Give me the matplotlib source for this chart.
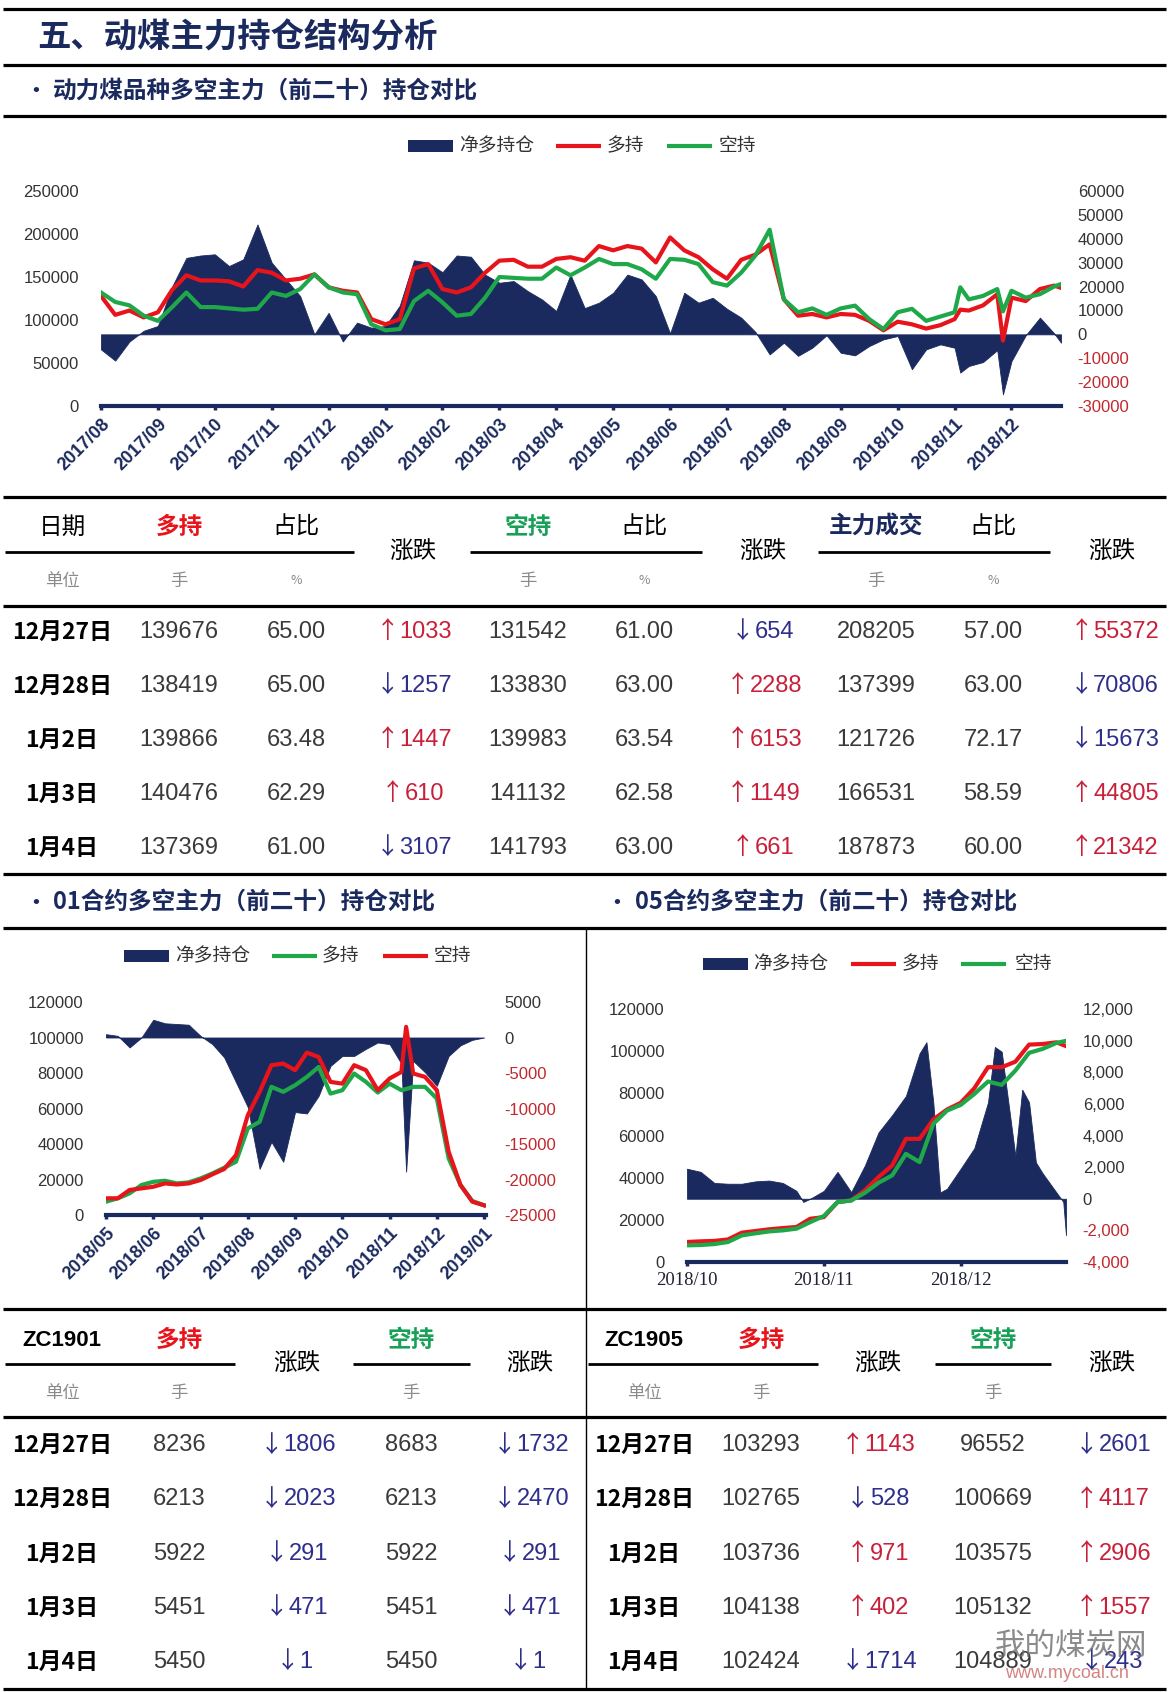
import numpy as np
import matplotlib
matplotlib.use("Agg")
import matplotlib.pyplot as plt

W, H = 1169, 1692

NAVY = '#1B2A5E'
RED = '#E8141B'
GREEN = '#1FA84A'
NEG_RED = '#C0282D'
UP_RED = '#C8203A'
DOWN_BLUE = '#2E2E8C'
GRAY_TXT = '#3A3A3A'

CJK = ['Noto Sans CJK SC', 'DejaVu Sans']
SANS = ['Liberation Sans', 'Noto Sans CJK SC', 'DejaVu Sans']
NARROW = ['Liberation Sans Narrow', 'Liberation Sans', 'Noto Sans CJK SC', 'DejaVu Sans']
SERIF = ['Liberation Serif', 'DejaVu Serif']

plt.rcParams['font.family'] = CJK
plt.rcParams['axes.unicode_minus'] = False

# ---------------- data: main contract chart (x = months since 2017/08) ----------------
top_x = [0, 0.25, 0.5, 0.75, 1, 1.25, 1.5, 1.75, 2, 2.25, 2.5, 2.75, 3, 3.25, 3.5, 3.75,
         4, 4.25, 4.5, 4.75, 5, 5.25, 5.5, 5.75, 6, 6.25, 6.5, 6.75, 7, 7.25, 7.5, 7.75,
         8, 8.25, 8.5, 8.75, 9, 9.25, 9.5, 9.75, 10, 10.25, 10.5, 10.75, 11, 11.25, 11.5, 11.75,
         12, 12.25, 12.5, 12.75, 13, 13.25, 13.5, 13.75, 14, 14.25, 14.5, 14.75, 15, 15.1,
         15.25, 15.5, 15.75, 15.85, 16, 16.25, 16.5, 16.75, 16.87]
top_long = [128000, 106000, 111000, 103000, 109000, 135000, 152000, 146000, 146000, 145000,
            139000, 158000, 155000, 146000, 148000, 153000, 138000, 134000, 132000, 101000,
            95000, 101000, 160000, 165000, 136000, 132000, 138000, 155000, 169000, 170000,
            162000, 162000, 171000, 173000, 169000, 186000, 181000, 186000, 183000, 167000,
            196000, 181000, 173000, 159000, 148000, 170000, 176000, 188000, 124000, 105000,
            107000, 103000, 107000, 106000, 99000, 88000, 98000, 95000, 90000, 94000,
            101000, 112000, 111000, 117000, 130000, 76000, 126000, 122000, 136000, 140000, 137400]
top_short = [132000, 121000, 117000, 105000, 99000, 115000, 132000, 115000, 115000, 113500,
             112000, 113000, 132000, 128000, 136000, 153000, 138000, 132000, 130000, 95000,
             88000, 89500, 122000, 134000, 120500, 105000, 107000, 126000, 150000, 149000,
             148000, 148000, 161000, 152000, 161000, 171000, 165000, 165000, 159000, 148000,
             171000, 170000, 165000, 144000, 140000, 155000, 175000, 205000, 124000, 109000,
             113500, 106000, 113500, 116700, 101000, 89500, 109000, 113000, 99000, 104000,
             109000, 138000, 124000, 128000, 136000, 110000, 134000, 126000, 130000, 139000, 141800]
top_net = [-6300, -11000, -3000, 1500, 3500, 20000, 32000, 33000, 33500, 28600,
           31400, 46000, 30000, 23000, 16000, 0, 9000, -3000, 4900, 2800,
           3500, 12000, 31000, 30000, 26000, 33000, 32500, 25000, 21600, 22300,
           18100, 14600, 9800, 25000, 11000, 13250, 17400, 25000, 23000, 16000,
           400, 17400, 13250, 15300, 10700, 7000, 1000, -8400, -3500, -9000,
           -5600, -400, -7700, -8800, -4900, -2100, -700, -14600, -6300, -4200,
           -5600, -16000, -13250, -11600, -6600, -25100, -11200, -400, 7000, 400, -3500]
top_months = ['2017/08', '2017/09', '2017/10', '2017/11', '2017/12', '2018/01', '2018/02',
              '2018/03', '2018/04', '2018/05', '2018/06', '2018/07', '2018/08', '2018/09',
              '2018/10', '2018/11', '2018/12']

# ---------------- data: ZC1901 chart (x = months since 2018/05) ----------------
c01_x = [0, 0.25, 0.5, 0.75, 1, 1.25, 1.5, 1.75, 2, 2.25, 2.5, 2.75, 3, 3.25, 3.5, 3.75,
         4, 4.25, 4.5, 4.75, 5, 5.25, 5.5, 5.75, 6, 6.25, 6.35, 6.5, 6.75, 7, 7.25, 7.5, 7.75, 8]
c01_long = [7500, 9400, 12200, 16900, 18700, 19300, 17800, 18400, 20600, 23400, 26600, 30000,
            48800, 52500, 72200, 69400, 73100, 77800, 83400, 68400, 70300, 79700, 75000, 69000,
            74000, 70300, 71000, 72200, 72200, 65600, 31900, 16900, 7900, 5450]
c01_short = [9400, 9400, 14100, 15000, 15900, 17800, 17200, 17800, 19700, 22900, 25900, 33700,
             56200, 69400, 84400, 85300, 81600, 91500, 89000, 75000, 74000, 84400, 81600, 70300,
             76900, 80600, 106000, 79700, 77800, 70300, 35600, 16900, 7500, 5450]
c01_net = [470, 230, -1400, 0, 2500, 2000, 1900, 1800, 230, -930, -2800, -6300,
           -9800, -18500, -14700, -17500, -10500, -10700, -8200, -4000, -2600, -2600, -1600, -700,
           -930, -3700, -18900, -3300, -4900, -6800, -2600, -1100, -330, 0]
c01_months = ['2018/05', '2018/06', '2018/07', '2018/08', '2018/09', '2018/10', '2018/11',
              '2018/12', '2019/01']

# ---------------- data: ZC1905 chart (x = months since 2018/10) ----------------
c05_x = [0, 0.1, 0.2, 0.3, 0.4, 0.5, 0.6, 0.7, 0.8, 0.9, 1.0, 1.1, 1.2, 1.3, 1.4, 1.5,
         1.6, 1.7, 1.8, 1.9, 2.0, 2.1, 2.2, 2.3, 2.4, 2.5, 2.6, 2.7, 2.77]
c05_long = [9500, 9800, 10000, 10700, 13900, 14700, 15500, 16100, 16600, 20500, 21300, 28400,
            29200, 34000, 40300, 45800, 58400, 58400, 67600, 72300, 75500, 82400, 92400, 92400,
            95000, 103100, 103400, 104200, 102400]
c05_short = [7900, 8050, 8500, 9500, 12600, 13600, 14500, 15000, 15800, 18900, 21800, 28400,
             29200, 32800, 37600, 41100, 51300, 47400, 65500, 71800, 74500, 79700, 85600, 84000,
             90800, 99200, 101100, 103900, 104900]
c05_net_x = [0, 0.1, 0.2, 0.3, 0.4, 0.5, 0.6, 0.7, 0.8, 0.85, 0.9, 1.0, 1.1, 1.2, 1.3, 1.4,
             1.5, 1.6, 1.7, 1.75, 1.8, 1.85, 1.9, 2.0, 2.1, 2.2, 2.25, 2.3, 2.4, 2.45, 2.5,
             2.55, 2.6, 2.7, 2.75, 2.77]
c05_net = [1900, 1700, 1000, 950, 950, 1100, 1150, 1000, 500, -200, 0, 500, 1700, 420, 2100,
           4200, 5300, 6500, 9200, 9900, 6100, 400, 630, 1900, 3200, 6100, 9600, 9300, 2700,
           6900, 6100, 2300, 1600, 400, -200, -2300]
c05_months = ['2018/10', '2018/11', '2018/12']

# ---------------- data: tables ----------------
dates = ["12月27日", "12月28日", "1月2日", "1月3日", "1月4日"]
zc_long = [139676, 138419, 139866, 140476, 137369]
zc_long_pct = [65.00, 65.00, 63.48, 62.29, 61.00]
zc_long_chg = [1033, -1257, 1447, 610, -3107]
zc_short = [131542, 133830, 139983, 141132, 141793]
zc_short_pct = [61.00, 63.00, 63.54, 62.58, 63.00]
zc_short_chg = [-654, 2288, 6153, 1149, 661]
zc_vol = [208205, 137399, 121726, 166531, 187873]
zc_vol_pct = [57.00, 63.00, 72.17, 58.59, 60.00]
zc_vol_chg = [55372, -70806, -15673, 44805, 21342]

zc1901_long = [8236, 6213, 5922, 5451, 5450]
zc1901_long_chg = [-1806, -2023, -291, -471, -1]
zc1901_short = [8683, 6213, 5922, 5451, 5450]
zc1901_short_chg = [-1732, -2470, -291, -471, -1]

zc1905_long = [103293, 102765, 103736, 104138, 102424]
zc1905_long_chg = [1143, -528, 971, 402, -1714]
zc1905_short = [96552, 100669, 103575, 105132, 104889]
zc1905_short_chg = [-2601, 4117, 2906, 1557, -243]


fig = plt.figure(figsize=(W / 100, H / 100), dpi=100)
fig.patch.set_facecolor('white')

# overlay in pixel coordinates for rules, titles, legends and tables
bg = fig.add_axes([0, 0, 1, 1])
bg.set_xlim(0, W)
bg.set_ylim(H, 0)
bg.axis('off')


def hline(y, x0=3, x1=W - 3, lw=2.3):
    bg.plot([x0, x1], [y, y], color='black', lw=lw, solid_capstyle='butt')


def txt(x, y, s, size, color='black', weight='normal', family=CJK, ha='center', **kw):
    bg.text(x, y, s, fontsize=size, color=color, fontweight=weight, family=family,
            ha=ha, va='center', **kw)


def chg_txt(cx, y, v, size=17):
    # thin arrow followed by the number, centred as a group
    s = str(abs(v))
    c = UP_RED if v >= 0 else DOWN_BLUE
    digit_w = size / 72 * 100 * 0.456
    total = 16 + len(s) * digit_w
    x0 = cx - total / 2
    txt(x0 + 4, y, '↑' if v >= 0 else '↓', size, color=c, family=CJK)
    txt(x0 + 16, y, s, size, color=c, family=NARROW, ha='left')


def legend(y, items):
    for kind, color, x0, x1, label, xl in items:
        if kind == 'box':
            bg.add_patch(plt.Rectangle((x0, y - 6), x1 - x0, 12, color=color, lw=0))
        else:
            bg.plot([x0, x1], [y, y], color=color, lw=3, solid_capstyle='butt')
        txt(xl, y, label, 13.5, color='#333333', ha='left')


# ---------------- headings and rules ----------------
hline(9)
txt(37, 38, '五、动煤主力持仓结构分析', 24, color=NAVY, weight='bold', ha='left')
hline(65)
txt(36, 91, '•', 15, color=NAVY, weight='bold')
txt(53, 91, '动力煤品种多空主力（前二十）持仓对比', 17, color=NAVY, weight='bold', ha='left')
hline(116)

legend(146, [('box', NAVY, 408, 453, '净多持仓', 459),
             ('line', RED, 556, 601, '多持', 607),
             ('line', GREEN, 667, 712, '空持', 719)])


def chart(box, xmax, lx, ya, ca, yb, cb, nx, ny, lylim, lyt, rylim, ryt, rylab,
          xt, xtl, rotate, lpad, rpad):
    left, right, top, bottom = box
    ax = fig.add_axes([left / W, 1 - bottom / H, (right - left) / W, (bottom - top) / H])
    ax.fill_between(nx, 0, ny, color=NAVY, linewidth=0.6)
    ax.set_xlim(0, xmax)
    ax.set_ylim(*rylim)
    ax2 = ax.twinx()
    ax2.plot(lx, ya, color=ca, lw=3, solid_joinstyle='round')
    ax2.plot(lx, yb, color=cb, lw=3, solid_joinstyle='round')
    ax2.set_ylim(*lylim)
    ax2.set_xlim(0, xmax)
    ax.yaxis.tick_right()
    ax2.yaxis.tick_left()

    ax2.set_yticks(lyt)
    ax2.set_yticklabels([str(v) for v in lyt], fontsize=12, family=SANS, color='#333333')
    ax2.tick_params(axis='y', length=0, pad=lpad)
    ax.set_yticks(ryt)
    ax.set_yticklabels(rylab, fontsize=12, family=SANS)
    for lab, v in zip(ax.get_yticklabels(), ryt):
        lab.set_color(NEG_RED if v < 0 else '#333333')
    ax.tick_params(axis='y', length=0, pad=rpad)

    ax.set_xticks(xt)
    if rotate:
        ax.set_xticklabels(xtl, rotation=45, ha='right', va='top', rotation_mode='anchor',
                           fontsize=13, fontweight='bold', color=NAVY, family=SANS)
    else:
        ax.set_xticklabels(xtl, fontsize=13.5, color='#222233', family=SERIF)
    ax.tick_params(axis='x', direction='out', length=3, width=2.5, color=NAVY, pad=4)

    for s in ['top', 'left', 'right']:
        ax.spines[s].set_visible(False)
    ax.spines['bottom'].set_color(NAVY)
    ax.spines['bottom'].set_linewidth(3)
    for s in ax2.spines.values():
        s.set_visible(False)
    ax.patch.set_visible(False)
    return ax, ax2


chart((101, 1061, 191, 406), 16.87, top_x, top_long, RED, top_short, GREEN, top_x, top_net,
      (0, 250000), list(range(0, 250001, 50000)),
      (-30000, 60000), list(range(-30000, 60001, 10000)),
      [str(v) for v in range(-30000, 60001, 10000)],
      list(range(len(top_months))), top_months, True, 16, 12)

hline(497)

# ---------------- main table ----------------
cols = [62, 179, 296, 413, 528, 644, 763, 876, 993, 1112]
txt(cols[0], 527, '日期', 17)
txt(cols[1], 527, '多持', 17, color=RED, weight='bold')
txt(cols[2], 527, '占比', 17)
txt(cols[4], 527, '空持', 17, color='#18A058', weight='bold')
txt(cols[5], 527, '占比', 17)
txt(cols[7], 527, '主力成交', 17, color=NAVY, weight='bold')
txt(cols[8], 527, '占比', 17)
for c in (3, 6, 9):
    txt(cols[c], 552, '涨跌', 17)
hline(552, 5, 354, lw=2)
hline(552, 470, 702, lw=2)
hline(552, 818, 1050, lw=2)
txt(cols[0], 581, '单位', 12.5, color='#8A8A8A')
for c in (1, 4, 7):
    txt(cols[c], 581, '手', 12.5, color='#8A8A8A')
for c in (2, 5, 8):
    txt(cols[c], 581, '%', 9, color='#8A8A8A')
hline(606)
row_y = [632, 686, 740, 794, 848]
for i, y in enumerate(row_y):
    txt(cols[0], y, dates[i], 16.5, weight='bold')
    txt(cols[1], y, str(zc_long[i]), 17, color=GRAY_TXT, family=NARROW)
    txt(cols[2], y, '%.2f' % zc_long_pct[i], 17, color=GRAY_TXT, family=NARROW)
    chg_txt(cols[3], y, zc_long_chg[i])
    txt(cols[4], y, str(zc_short[i]), 17, color=GRAY_TXT, family=NARROW)
    txt(cols[5], y, '%.2f' % zc_short_pct[i], 17, color=GRAY_TXT, family=NARROW)
    chg_txt(cols[6], y, zc_short_chg[i])
    txt(cols[7], y, str(zc_vol[i]), 17, color=GRAY_TXT, family=NARROW)
    txt(cols[8], y, '%.2f' % zc_vol_pct[i], 17, color=GRAY_TXT, family=NARROW)
    chg_txt(cols[9], y, zc_vol_chg[i])
hline(874)

# ---------------- sub headings ----------------
txt(36, 902, '•', 15, color=NAVY, weight='bold')
txt(53, 902, '01合约多空主力（前二十）持仓对比', 17, color=NAVY, weight='bold', ha='left')
txt(617, 902, '•', 15, color=NAVY, weight='bold')
txt(635, 902, '05合约多空主力（前二十）持仓对比', 17, color=NAVY, weight='bold', ha='left')
hline(928)
bg.plot([586, 586], [928, 1689], color='black', lw=1.0)

legend(956, [('box', NAVY, 124, 169, '净多持仓', 175),
             ('line', GREEN, 272, 317, '多持', 322),
             ('line', RED, 383, 428, '空持', 434)])
legend(964, [('box', NAVY, 703, 748, '净多持仓', 753),
             ('line', RED, 851, 896, '多持', 902),
             ('line', GREEN, 961, 1006, '空持', 1015)])

chart((106, 486, 1002, 1215), 8.04, c01_x, c01_long, GREEN, c01_short, RED, c01_x, c01_net,
      (0, 120000), list(range(0, 120001, 20000)),
      (-25000, 5000), list(range(-25000, 5001, 5000)),
      [str(v) for v in range(-25000, 5001, 5000)],
      list(range(len(c01_months))), c01_months, True, 16, 13)

chart((687, 1066, 1009, 1262), 2.77, c05_x, c05_long, RED, c05_short, GREEN, c05_net_x, c05_net,
      (0, 120000), list(range(0, 120001, 20000)),
      (-4000, 12000), list(range(-4000, 12001, 2000)),
      ['{:,}'.format(v) for v in range(-4000, 12001, 2000)],
      list(range(len(c05_months))), c05_months, False, 16, 12)

hline(1309)

# ---------------- contract tables ----------------
def contract_table(cols, name, longs, long_chg, shorts, short_chg, seg1, seg2):
    txt(cols[0], 1340, name, 16, weight='bold', family=NARROW)
    txt(cols[1], 1340, '多持', 17, color=RED, weight='bold')
    txt(cols[3], 1340, '空持', 17, color='#18A058', weight='bold')
    txt(cols[2], 1364, '涨跌', 17)
    txt(cols[4], 1364, '涨跌', 17)
    hline(1364, seg1[0], seg1[1], lw=2)
    hline(1364, seg2[0], seg2[1], lw=2)
    txt(cols[0], 1393, '单位', 12.5, color='#8A8A8A')
    txt(cols[1], 1393, '手', 12.5, color='#8A8A8A')
    txt(cols[3], 1393, '手', 12.5, color='#8A8A8A')
    for i, y in enumerate([1445, 1499, 1554, 1608, 1662]):
        txt(cols[0], y, dates[i], 16.5, weight='bold')
        txt(cols[1], y, str(longs[i]), 17, color=GRAY_TXT, family=NARROW)
        chg_txt(cols[2], y, long_chg[i])
        txt(cols[3], y, str(shorts[i]), 17, color=GRAY_TXT, family=NARROW)
        chg_txt(cols[4], y, short_chg[i])


contract_table([62, 179, 297, 411, 530], 'ZC1901', zc1901_long, zc1901_long_chg,
               zc1901_short, zc1901_short_chg, (5, 235), (353, 470))
contract_table([644, 761, 878, 993, 1112], 'ZC1905', zc1905_long, zc1905_long_chg,
               zc1905_short, zc1905_short_chg, (588, 818), (935, 1051))
hline(1417)
hline(1689)

# watermark
bg.text(1071, 1646, '我的煤炭网', fontsize=22, color='#6E6E6E', alpha=0.8, ha='center',
        va='center', family=CJK, zorder=5)
bg.text(1067, 1673, 'www.mycoal.cn', fontsize=13, color='#C0504D', alpha=0.7, ha='center',
        va='center', family=SANS, zorder=5)

fig.savefig('out.png', dpi=100, facecolor='white')
